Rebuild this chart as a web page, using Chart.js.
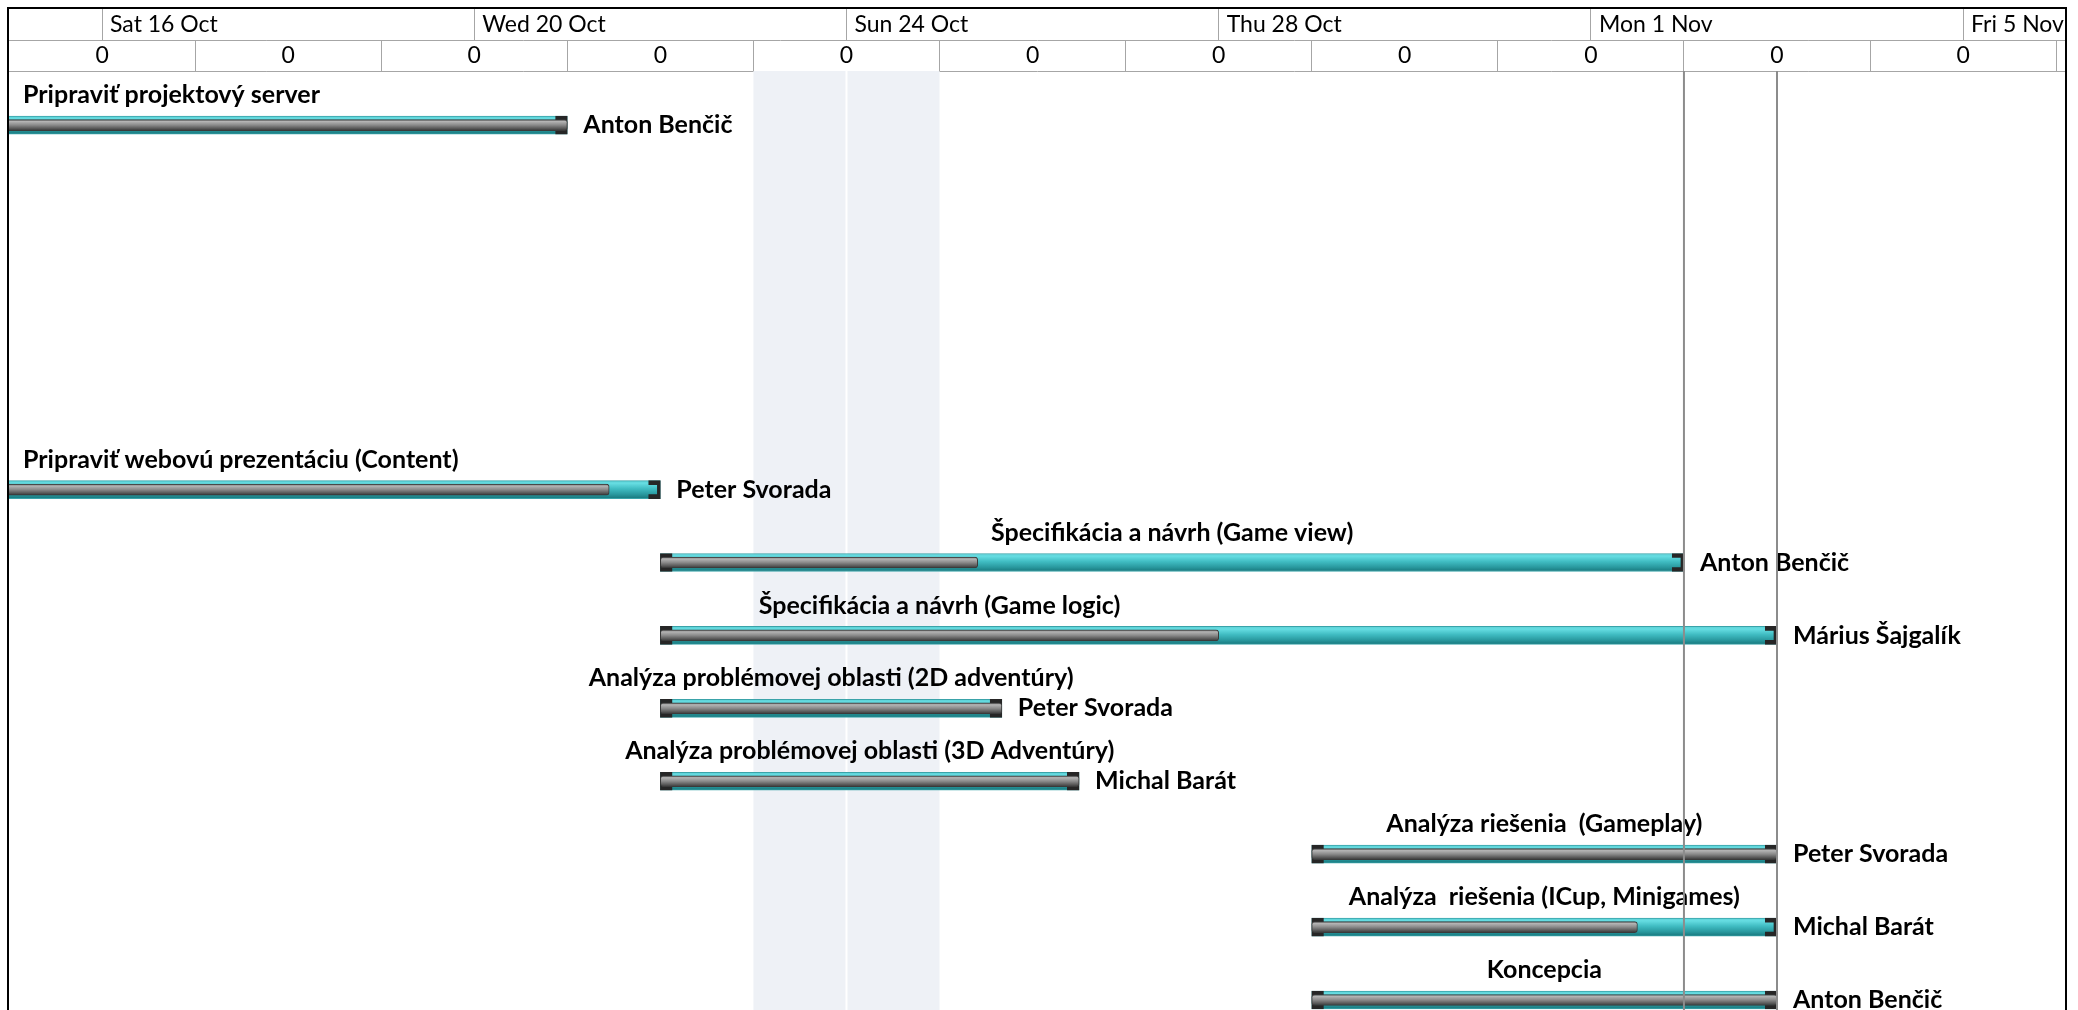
<!DOCTYPE html>
<html><head><meta charset="utf-8">
<script src="https://cdn.jsdelivr.net/npm/chart.js@4/dist/chart.umd.min.js"></script>
<style>
html,body{margin:0;padding:0;background:#fff;overflow:hidden;}
#frame{position:absolute;left:7px;top:7px;width:2056px;height:1003px;border:2px solid #000;border-bottom:none;}
#frame canvas{display:block;}
</style></head><body>
<div id="frame"><canvas id="c"></canvas></div>
<script>
// Day numbers count from Fri 15 Oct (day 0)
const dateLabels = ['Sat 16 Oct','Wed 20 Oct','Sun 24 Oct','Thu 28 Oct','Mon 1 Nov','Fri 5 Nov'];
const dateLabelDays = [1,5,9,13,17,21];
const periodLabels = ['0','0','0','0','0','0','0','0','0','0','0'];
const periodLabelDays = [1,3,5,7,9,11,13,15,17,19,21];
const weekendSpan = [8,10];
const markerDays = [18,19];

const tasks = ['Pripraviť projektový server','Pripraviť webovú prezentáciu (Content)','Špecifikácia a návrh (Game view)','Špecifikácia a návrh (Game logic)','Analýza problémovej oblasti (2D adventúry)','Analýza problémovej oblasti (3D Adventúry)','Analýza riešenia  (Gameplay)','Analýza  riešenia (ICup, Minigames)','Koncepcia'];
const resources = ['Anton Benčič','Peter Svorada','Anton Benčič','Márius Šajgalík','Peter Svorada','Michal Barát','Peter Svorada','Michal Barát','Anton Benčič'];
const rows = [0,5,6,7,8,9,10,11,12];
const starts = [-3,-3,7,7,7,7,14,14,14];
const ends = [6,7,18,19,10.67,11.5,19,19,19];
const complete = [100,94.5,31,50,100,100,100,70,100];
const titleCenter = [null,null,null,10,null,null,null,null,null];

const X_MAX = 22.095, Y_MIN = -0.742, Y_MAX = 12.165;
const CAP = 0.13;
const FONT = 'Lato, "Open Sans", sans-serif';
const FS = 23;      // header text
const LFS = 25;     // bar labels

function tealGrad(c){
  const ch = c.chart; const y = ch.scales.y;
  if (!ch.chartArea || !y) return '#3cb8be';
  const py = y.getPixelForValue(rows[c.dataIndex]);
  const g = ch.ctx.createLinearGradient(0, py-9, 0, py+9);
  g.addColorStop(0,'#5ccfd5'); g.addColorStop(0.15,'#66dde2'); g.addColorStop(0.45,'#40bcc2');
  g.addColorStop(0.75,'#2a9aa0'); g.addColorStop(1,'#17777c');
  return g;
}
function grayGrad(c){
  const ch = c.chart; const y = ch.scales.y;
  if (!ch.chartArea || !y) return '#888';
  const py = y.getPixelForValue(rows[c.dataIndex]);
  const g = ch.ctx.createLinearGradient(0, py-6, 0, py+6);
  g.addColorStop(0,'#555'); g.addColorStop(0.2,'#b4b4b4'); g.addColorStop(0.5,'#8a8a8a');
  g.addColorStop(0.8,'#555'); g.addColorStop(1,'#2e2e2e');
  return g;
}

const decor = {
  id:'decor',
  beforeDatasetsDraw(chart){
    const {ctx, chartArea:a, scales:{x}} = chart;
    ctx.save();
    const x0 = x.getPixelForValue(weekendSpan[0]), x1 = x.getPixelForValue(weekendSpan[1]);
    ctx.fillStyle = '#eef1f6';
    ctx.fillRect(x0, a.top, x1-x0, a.bottom-a.top);
    ctx.strokeStyle = '#ffffff'; ctx.lineWidth = 2;
    for (let d = weekendSpan[0]+1; d < weekendSpan[1]; d++){
      const px = x.getPixelForValue(d);
      ctx.beginPath(); ctx.moveTo(px, a.top); ctx.lineTo(px, a.bottom); ctx.stroke();
    }
    ctx.restore();
  },
  afterDatasetsDraw(chart){
    const {ctx, chartArea:a, scales:{x,y}} = chart;
    ctx.save();
    ctx.beginPath(); ctx.rect(a.left, a.top, a.right-a.left, a.bottom-a.top); ctx.clip();
    ctx.fillStyle = '#000'; ctx.font = 'bold '+LFS+'px '+FONT; ctx.textBaseline = 'middle'; ctx.textAlign = 'left';
    tasks.forEach((name,i)=>{
      const yc = y.getPixelForValue(rows[i]);
      const c = titleCenter[i] !== null ? titleCenter[i] : (starts[i]+ends[i])/2;
      const w = ctx.measureText(name).width;
      const left = Math.max(x.getPixelForValue(c) - w/2, a.left + 14);
      ctx.fillText(name, left, yc - 30);
      ctx.fillText(resources[i], x.getPixelForValue(ends[i]) + 16, yc);
    });
    ctx.strokeStyle = '#8c8c8c'; ctx.lineWidth = 2;
    markerDays.forEach(d=>{
      const px = x.getPixelForValue(d);
      ctx.beginPath(); ctx.moveTo(px, a.top); ctx.lineTo(px, a.bottom); ctx.stroke();
    });
    ctx.restore();
  }
};

function draw(){
  const ctx = document.getElementById('c');
  new Chart(ctx, {
    type:'bar',
    data:{ datasets:[
      { label:'progress', xAxisID:'x', yAxisID:'y', grouped:false, order:1,
        data: rows.map((r,i)=>({y:r, x:[starts[i], starts[i]+(ends[i]-starts[i])*complete[i]/100]})),
        barThickness:11, backgroundColor:grayGrad, borderColor:'#3a3a3a', borderWidth:1, borderRadius:3, borderSkipped:false },
      { label:'startCap', xAxisID:'x', yAxisID:'y', grouped:false, order:2,
        data: rows.map((r,i)=>({y:r, x:[starts[i], starts[i]+CAP]})),
        barThickness:18, backgroundColor:'rgba(0,0,0,0)', borderColor:'#262626', borderWidth:{top:4,left:3,bottom:4,right:0}, borderSkipped:false },
      { label:'endCap', xAxisID:'x', yAxisID:'y', grouped:false, order:2,
        data: rows.map((r,i)=>({y:r, x:[ends[i]-CAP, ends[i]]})),
        barThickness:18, backgroundColor:'rgba(0,0,0,0)', borderColor:'#262626', borderWidth:{top:4,right:3,bottom:4,left:0}, borderSkipped:false },
      { label:'task', xAxisID:'x', yAxisID:'y', grouped:false, order:3,
        data: rows.map((r,i)=>({y:r, x:[starts[i], ends[i]]})),
        barThickness:18, backgroundColor:tealGrad, borderColor:'#3aa3a9', borderWidth:1, borderSkipped:false }
    ]},
    options:{
      indexAxis:'y', responsive:true, maintainAspectRatio:false, animation:false,
      layout:{padding:0, autoPadding:false},
      plugins:{legend:{display:false}, tooltip:{enabled:false}},
      scales:{
        x:{ type:'linear', position:'top', min:0, max:X_MAX, weight:0, bounds:'data',
            afterBuildTicks:s=>{ s.ticks = periodLabelDays.map(v=>({value:v})); },
            afterFit:s=>{ s.height = 31; },
            ticks:{ callback:(v,i)=>periodLabels[i], autoSkip:false, maxRotation:0, color:'#000',
                    font:{family:FONT, size:FS}, padding:-(15.5 + FS*0.6) },
            grid:{ offset:true, drawOnChartArea:false, drawTicks:true, tickLength:31, color:'#a6a6a6', lineWidth:1 },
            border:{ display:true, color:'#a6a6a6', width:1 } },
        x2:{ type:'linear', position:'top', min:0, max:X_MAX, weight:1, bounds:'data',
            afterBuildTicks:s=>{ s.ticks = dateLabelDays.map(v=>({value:v})); },
            afterFit:s=>{ s.height = 31; },
            ticks:{ callback:(v,i)=>dateLabels[i], autoSkip:false, maxRotation:0, align:'start', labelOffset:8, color:'#000',
                    font:{family:FONT, size:FS}, padding:-(15.5 + FS*0.6) },
            grid:{ drawOnChartArea:false, drawTicks:true, tickLength:31, color:'#a6a6a6', lineWidth:1 },
            border:{ display:true, color:'#a6a6a6', width:1 } },
        y:{ type:'linear', reverse:true, min:Y_MIN, max:Y_MAX, display:false, offset:false, grid:{display:false, offset:false} }
      }
    },
    plugins:[decor]
  });
}
if (document.fonts && document.fonts.load) {
  Promise.all([document.fonts.load('bold 25px Lato'), document.fonts.load('23px Lato')]).then(draw, draw);
} else draw();
</script>
</body></html>
